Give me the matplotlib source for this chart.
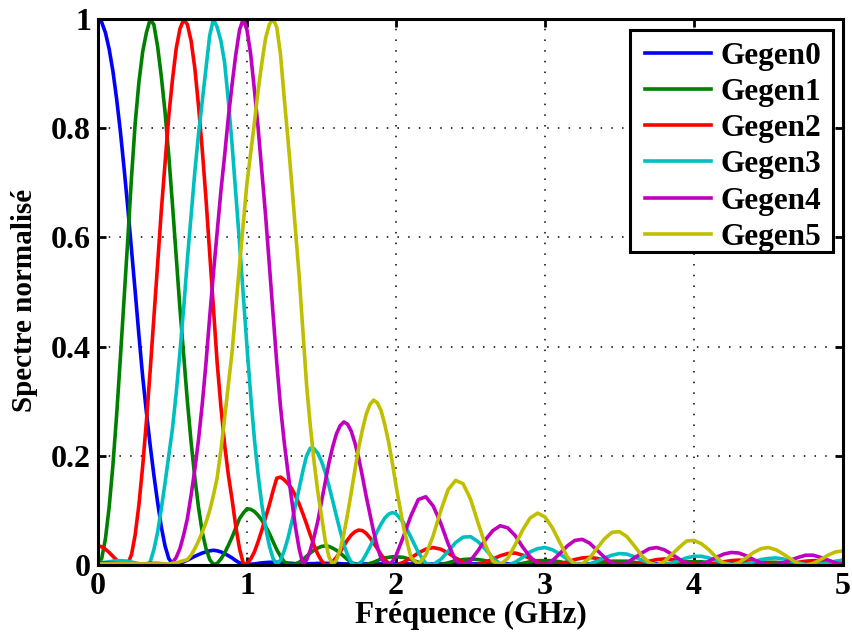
import numpy as np
import matplotlib.pyplot as plt
from matplotlib.patches import Rectangle

# frequency grid (GHz): 0.025 steps up to 2 GHz, 0.05 steps after
freq = np.concatenate([np.arange(80) * 0.025, 2.0 + np.arange(61) * 0.05])

# spectra at those frequencies
gegen0 = [1.0, 0.994, 0.975, 0.945, 0.905, 0.854, 0.795, 0.727, 0.655, 0.578,
          0.5, 0.42, 0.345, 0.28, 0.22, 0.165, 0.115, 0.07, 0.035, 0.012,
          0.002, 0.001, 0.003, 0.006, 0.009, 0.0125, 0.016, 0.019, 0.022, 0.024,
          0.026, 0.027, 0.026, 0.024, 0.021, 0.017, 0.013, 0.008, 0.004, 0.001,
          0.001, 0.0015, 0.002, 0.003, 0.004, 0.0045, 0.005, 0.005, 0.005, 0.0045,
          0.004, 0.0035, 0.003, 0.0025, 0.002, 0.002, 0.002, 0.0025, 0.0025, 0.003,
          0.003, 0.003, 0.003, 0.003, 0.003, 0.0025, 0.002, 0.002, 0.002, 0.002,
          0.002, 0.002, 0.002, 0.002, 0.002, 0.002, 0.002, 0.002, 0.002, 0.002,
          # 2.0 - 5.0 GHz
          0.002, 0.002, 0.002, 0.002, 0.002, 0.002, 0.002, 0.002, 0.002, 0.002,
          0.002, 0.002, 0.002, 0.002, 0.002, 0.002, 0.002, 0.002, 0.002, 0.002,
          0.002, 0.002, 0.002, 0.002, 0.002, 0.002, 0.002, 0.002, 0.002, 0.002,
          0.002, 0.002, 0.002, 0.002, 0.002, 0.002, 0.002, 0.002, 0.002, 0.002,
          0.002, 0.002, 0.002, 0.002, 0.002, 0.002, 0.002, 0.002, 0.002, 0.002,
          0.002, 0.002, 0.002, 0.002, 0.002, 0.002, 0.002, 0.002, 0.002, 0.002,
          0.002]

gegen1 = [0.0, 0.012, 0.048, 0.106, 0.182, 0.274, 0.378, 0.487, 0.596, 0.71,
          0.81, 0.885, 0.94, 0.975, 0.999, 0.99, 0.95, 0.895, 0.83, 0.75,
          0.66, 0.565, 0.47, 0.385, 0.30, 0.225, 0.16, 0.105, 0.06, 0.03,
          0.01, 0.001, 0.003, 0.011, 0.022, 0.036, 0.051, 0.068, 0.085, 0.095,
          0.103, 0.102, 0.098, 0.091, 0.082, 0.071, 0.058, 0.043, 0.028, 0.016,
          0.006, 0.002, 0.001, 0.002, 0.005, 0.010, 0.016, 0.022, 0.027, 0.031,
          0.034, 0.035, 0.034, 0.031, 0.027, 0.022, 0.016, 0.010, 0.005, 0.002,
          0.001, 0.0, 0.001, 0.003, 0.005, 0.008, 0.011, 0.013, 0.014, 0.015,
          # 2.0 - 5.0 GHz
          0.015, 0.014, 0.010, 0.005, 0.001, 0.0, 0.001, 0.004, 0.008, 0.010,
          0.011, 0.010, 0.008, 0.004, 0.001, 0.0, 0.001, 0.003, 0.006, 0.008,
          0.008, 0.008, 0.006, 0.003, 0.001, 0.0, 0.001, 0.003, 0.005, 0.007,
          0.007, 0.007, 0.005, 0.003, 0.001, 0.0, 0.001, 0.002, 0.004, 0.006,
          0.006, 0.006, 0.004, 0.002, 0.001, 0.0, 0.001, 0.002, 0.004, 0.005,
          0.005, 0.005, 0.004, 0.002, 0.001, 0.0, 0.001, 0.002, 0.003, 0.004,
          0.004]

gegen2 = [0.035, 0.0335, 0.029, 0.023, 0.016, 0.009, 0.004, 0.001, 0.002, 0.019,
          0.056, 0.111, 0.181, 0.263, 0.355, 0.452, 0.55, 0.649, 0.735, 0.822,
          0.889, 0.946, 0.982, 0.999, 0.99, 0.96, 0.91, 0.84, 0.76, 0.67,
          0.57, 0.47, 0.37, 0.29, 0.22, 0.165, 0.12, 0.07, 0.03, 0.003,
          0.002, 0.011, 0.024, 0.043, 0.064, 0.087, 0.11, 0.136, 0.159, 0.161,
          0.156, 0.149, 0.14, 0.127, 0.112, 0.094, 0.075, 0.055, 0.036, 0.02,
          0.008, 0.0, 0.001, 0.006, 0.014, 0.024, 0.035, 0.046, 0.055, 0.061,
          0.064, 0.063, 0.058, 0.05, 0.04, 0.03, 0.019, 0.01, 0.003, 0.0,
          # 2.0 - 5.0 GHz
          0.0, 0.005, 0.013, 0.022, 0.029, 0.032, 0.029, 0.022, 0.013, 0.005,
          0.0, 0.001, 0.005, 0.011, 0.017, 0.021, 0.022, 0.018, 0.012, 0.006,
          0.001, 0.0, 0.002, 0.006, 0.010, 0.013, 0.014, 0.012, 0.009, 0.005,
          0.001, 0.0, 0.001, 0.004, 0.007, 0.010, 0.011, 0.010, 0.008, 0.005,
          0.002, 0.0, 0.001, 0.003, 0.006, 0.008, 0.009, 0.008, 0.006, 0.004,
          0.002, 0.0, 0.001, 0.002, 0.005, 0.007, 0.008, 0.008, 0.007, 0.005,
          0.003]

gegen3 = [0.004, 0.0045, 0.005, 0.006, 0.007, 0.0075, 0.008, 0.0075, 0.007, 0.0055,
          0.004, 0.0025, 0.001, 0.0, 0.005, 0.028, 0.06, 0.103, 0.15, 0.20,
          0.25, 0.315, 0.39, 0.47, 0.56, 0.64, 0.72, 0.79, 0.85, 0.91,
          0.97, 1.0, 0.985, 0.96, 0.92, 0.85, 0.77, 0.68, 0.59, 0.495,
          0.40, 0.31, 0.23, 0.165, 0.11, 0.068, 0.035, 0.012, 0.001, 0.009,
          0.026, 0.049, 0.078, 0.108, 0.14, 0.172, 0.20, 0.214, 0.213, 0.205,
          0.19, 0.17, 0.145, 0.118, 0.09, 0.063, 0.038, 0.018, 0.005, 0.0,
          0.002, 0.008, 0.02, 0.033, 0.047, 0.062, 0.075, 0.086, 0.093, 0.096,
          # 2.0 - 5.0 GHz
          0.094, 0.078, 0.051, 0.023, 0.003, 0.001, 0.01, 0.025, 0.041, 0.051,
          0.052, 0.043, 0.029, 0.013, 0.002, 0.0, 0.005, 0.014, 0.024, 0.030,
          0.032, 0.028, 0.020, 0.011, 0.003, 0.0, 0.002, 0.007, 0.013, 0.018,
          0.021, 0.020, 0.015, 0.009, 0.004, 0.0, 0.001, 0.004, 0.008, 0.013,
          0.016, 0.016, 0.013, 0.008, 0.004, 0.001, 0.0, 0.002, 0.006, 0.010,
          0.012, 0.013, 0.011, 0.007, 0.004, 0.001, 0.0, 0.002, 0.004, 0.007,
          0.009]

gegen4 = [0.004, 0.004, 0.004, 0.0035, 0.003, 0.0025, 0.002, 0.0015, 0.001, 0.001,
          0.001, 0.0015, 0.002, 0.0025, 0.003, 0.003, 0.003, 0.0025, 0.002, 0.0,
          0.004, 0.014, 0.03, 0.055, 0.085, 0.128, 0.175, 0.23, 0.295, 0.37,
          0.455, 0.535, 0.61, 0.685, 0.75, 0.82, 0.88, 0.935, 0.98, 1.0,
          0.98, 0.935, 0.87, 0.80, 0.72, 0.64, 0.55, 0.46, 0.37, 0.29,
          0.225, 0.17, 0.12, 0.07, 0.03, 0.002, 0.009, 0.027, 0.051, 0.08,
          0.116, 0.152, 0.187, 0.216, 0.24, 0.255, 0.262, 0.258, 0.245, 0.223,
          0.196, 0.162, 0.126, 0.093, 0.061, 0.033, 0.012, 0.004, 0.001, 0.006,
          # 2.0 - 5.0 GHz
          0.017, 0.052, 0.090, 0.120, 0.125, 0.108, 0.077, 0.039, 0.008, 0.0,
          0.008, 0.026, 0.046, 0.063, 0.072, 0.068, 0.054, 0.033, 0.015, 0.002,
          0.001, 0.008, 0.021, 0.035, 0.045, 0.047, 0.040, 0.027, 0.014, 0.003,
          0.0, 0.004, 0.013, 0.022, 0.030, 0.032, 0.028, 0.020, 0.011, 0.003,
          0.0, 0.002, 0.007, 0.014, 0.020, 0.023, 0.022, 0.017, 0.010, 0.004,
          0.0, 0.001, 0.004, 0.009, 0.014, 0.018, 0.018, 0.014, 0.009, 0.004,
          0.001]

gegen5 = [0.002, 0.002, 0.002, 0.002, 0.002, 0.002, 0.002, 0.002, 0.002, 0.002,
          0.002, 0.002, 0.002, 0.002, 0.002, 0.002, 0.002, 0.002, 0.002, 0.002,
          0.003, 0.004, 0.006, 0.008, 0.01, 0.018, 0.03, 0.044, 0.06, 0.078,
          0.10, 0.128, 0.16, 0.21, 0.27, 0.33, 0.39, 0.47, 0.55, 0.625,
          0.70, 0.755, 0.81, 0.87, 0.92, 0.965, 0.99, 1.0, 0.985, 0.935,
          0.855, 0.78, 0.70, 0.615, 0.53, 0.43, 0.33, 0.255, 0.19, 0.135,
          0.09, 0.045, 0.015, 0.001, 0.009, 0.028, 0.057, 0.093, 0.133, 0.175,
          0.215, 0.248, 0.276, 0.294, 0.302, 0.297, 0.283, 0.257, 0.226, 0.188,
          # 2.0 - 5.0 GHz
          0.146, 0.070, 0.014, 0.001, 0.018, 0.054, 0.099, 0.138, 0.155, 0.149,
          0.121, 0.078, 0.037, 0.007, 0.001, 0.012, 0.037, 0.064, 0.086, 0.095,
          0.088, 0.068, 0.041, 0.015, 0.001, 0.002, 0.013, 0.031, 0.048, 0.060,
          0.061, 0.052, 0.035, 0.017, 0.004, 0.0, 0.006, 0.019, 0.032, 0.044,
          0.045, 0.039, 0.028, 0.014, 0.003, 0.0, 0.004, 0.013, 0.023, 0.030,
          0.032, 0.028, 0.020, 0.011, 0.002, 0.0, 0.003, 0.010, 0.018, 0.024,
          0.026]

spectra = [gegen0, gegen1, gegen2, gegen3, gegen4, gegen5]
labels = ['Gegen0', 'Gegen1', 'Gegen2', 'Gegen3', 'Gegen4', 'Gegen5']
colors = ['#0000ff', '#008000', '#ff0000', '#00bfbf', '#bf00bf', '#bfbf00']

plt.rcParams['font.family'] = 'Liberation Serif'
plt.rcParams['font.weight'] = 'bold'

fig = plt.figure(figsize=(8.52, 6.38), dpi=100)
ax = fig.add_axes([0.115, 0.1144, 0.8744, 0.8558])

for y, lab, c in zip(spectra, labels, colors):
    ax.plot(freq, y, color=c, lw=2.6, label=lab)

ax.set_xlim(0, 5)
ax.set_ylim(0, 1)
ax.set_xticks([0, 1, 2, 3, 4, 5])
ax.set_yticks([0, 0.2, 0.4, 0.6, 0.8, 1])
ax.set_yticklabels(['0', '0.2', '0.4', '0.6', '0.8', '1'])
ax.grid(True, color='k', linestyle=(0, (1, 6)), lw=1.1)
ax.tick_params(direction='in', length=6, width=2, top=True, right=True,
               labelsize=23, pad=5)
for s in ax.spines.values():
    s.set_linewidth(2.2)

ax.set_xlabel('Fréquence (GHz)', fontsize=22.5, fontweight='bold', labelpad=0)
ax.set_ylabel('Spectre normalisé', fontsize=21, fontweight='bold')
ax.yaxis.set_label_coords(-0.08, 0.485)

# legend box (MATLAB style: square, thick black edge)
box = Rectangle((0.714, 0.5733), 0.2726, 0.4066, transform=ax.transAxes,
                facecolor='white', edgecolor='k', lw=2.2, zorder=4.5)
ax.add_patch(box)
leg = ax.legend(loc='upper right', bbox_to_anchor=(0.9946, 0.9908),
                fontsize=22.5, frameon=False, handlelength=2.1,
                handletextpad=0.3, labelspacing=0.23, borderpad=0.22,
                borderaxespad=0.35)
leg.set_zorder(5)

fig.savefig('out.png', dpi=100)
